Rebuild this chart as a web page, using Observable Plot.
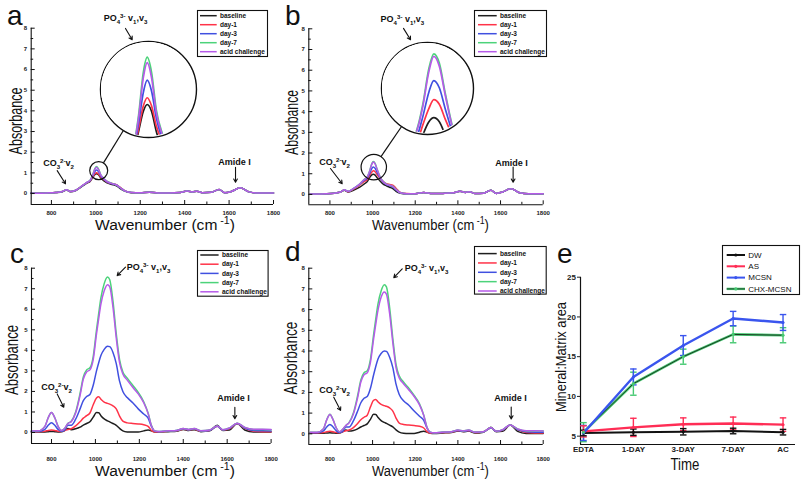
<!DOCTYPE html>
<html><head><meta charset="utf-8">
<script src="https://cdn.jsdelivr.net/npm/d3@7"></script>
<script src="https://cdn.jsdelivr.net/npm/@observablehq/plot@0.6"></script>
<style>
body{margin:0;background:#fff;}
#fig{position:relative;width:810px;height:479px;overflow:hidden;background:#fff;font-family:"Liberation Sans",Arial,sans-serif;}
#fig svg{position:absolute;overflow:visible;}
.inset{position:absolute;border-radius:50%;overflow:hidden;background:#fff;}
</style></head><body><div id="fig"></div><script>
// ---------------- DATA ----------------
const seriesNames = ["baseline","day-1","day-3","day-7","acid challenge"];
const seriesColors = ["#1e1e1e","#ff3348","#4050e0","#4cd37a","#b65ae8"];
const xTickMajor = [800,1000,1200,1400,1600,1800];
const xTickMinor = [900,1100,1300,1500,1700];
const yTickMajor = [0,1,2,3,4,5,6,7,8];
const yTickMinor = [0.5,1.5,2.5,3.5,4.5,5.5,6.5,7.5];

const gridAB = [708,740,780,820,850,868,885,910,940,960,975,985,995,1003,1012,1022,1035,1050,1065,1080,1095,1110,1130,1160,1200,1240,1280,1330,1380,1410,1435,1455,1480,1520,1555,1580,1610,1650,1690,1730,1800];
const aBaseline = [0.02,0.02,0.03,0.05,0.09,0.17,0.09,0.15,0.36,0.5, 0.6,0.76,0.91,0.96,0.91,0.76,0.62,0.52,0.46,0.42,0.36,0.24,0.12,0.04, 0.04,0.06,0.03,0.03,0.05,0.12,0.08,0.11,0.04,0.06,0.2,0.04,0.1,0.28,0.08,0.03,0.03];
const aDay1 = [0.02,0.02,0.03,0.05,0.1,0.18,0.1,0.16,0.38,0.52, 0.62,0.78,0.95,1.01,0.95,0.8,0.68,0.56,0.5,0.47,0.42,0.3,0.14,0.05, 0.04,0.06,0.03,0.03,0.05,0.12,0.08,0.11,0.04,0.06,0.2,0.04,0.1,0.28,0.08,0.03,0.03];
const aDay3 = [0.02,0.02,0.03,0.05,0.1,0.18,0.1,0.16,0.38,0.53, 0.63,0.82,1.05,1.14,1.06,0.86,0.7,0.57,0.5,0.46,0.4,0.28,0.13,0.05, 0.04,0.06,0.03,0.03,0.05,0.12,0.08,0.11,0.04,0.06,0.2,0.04,0.1,0.28,0.08,0.03,0.03];
const aDay7 = [0.02,0.02,0.03,0.05,0.1,0.18,0.1,0.16,0.39,0.54, 0.66,0.88,1.2,1.31,1.2,0.92,0.74,0.6,0.52,0.47,0.4,0.28,0.13,0.05, 0.04,0.06,0.03,0.03,0.05,0.12,0.08,0.11,0.04,0.06,0.2,0.04,0.1,0.28,0.08,0.03,0.03];
const aAcid = [0.02,0.02,0.03,0.05,0.1,0.18,0.1,0.16,0.39,0.54, 0.65,0.86,1.16,1.27,1.16,0.9,0.73,0.59,0.51,0.46,0.4,0.28,0.13,0.05, 0.04,0.06,0.03,0.03,0.05,0.12,0.08,0.11,0.04,0.06,0.2,0.04,0.1,0.28,0.08,0.03,0.03];

const bBaseline = [0.02,0.02,0.03,0.06,0.12,0.2,0.12,0.2,0.35,0.5, 0.62,0.8,0.93,0.97,0.93,0.8,0.65,0.5,0.42,0.35,0.28,0.15,0.06,0.03, 0.03,0.1,0.04,0.05,0.08,0.16,0.1,0.13,0.04,0.06,0.2,0.05,0.12,0.28,0.08,0.03,0.03];
const bDay1 = [0.02,0.02,0.03,0.06,0.12,0.21,0.13,0.25,0.45,0.62, 0.72,0.9,1.06,1.145,1.1,0.95,0.78,0.62,0.52,0.48,0.45,0.3,0.1,0.04, 0.03,0.1,0.04,0.05,0.08,0.16,0.1,0.13,0.04,0.06,0.2,0.05,0.12,0.28,0.08,0.03,0.03];
const bDay3 = [0.02,0.02,0.03,0.06,0.12,0.22,0.14,0.28,0.5,0.68, 0.78,0.98,1.22,1.33,1.26,1.05,0.8,0.6,0.48,0.42,0.36,0.22,0.08,0.03, 0.03,0.1,0.04,0.05,0.08,0.16,0.1,0.13,0.04,0.06,0.2,0.05,0.12,0.28,0.08,0.03,0.03];
const bDay7 = [0.02,0.02,0.03,0.06,0.12,0.23,0.15,0.28,0.5,0.72, 0.85,1.1,1.45,1.59,1.5,1.2,0.85,0.62,0.5,0.45,0.4,0.25,0.08,0.03, 0.03,0.1,0.04,0.05,0.08,0.16,0.1,0.13,0.04,0.06,0.2,0.05,0.12,0.28,0.08,0.03,0.03];
const bAcid = [0.02,0.02,0.03,0.06,0.12,0.23,0.15,0.28,0.5,0.71, 0.84,1.08,1.42,1.565,1.47,1.18,0.84,0.61,0.49,0.44,0.39,0.24,0.08,0.03, 0.03,0.1,0.04,0.05,0.08,0.16,0.1,0.13,0.04,0.06,0.2,0.05,0.12,0.28,0.08,0.03,0.03];

const gridCD = [708,740,770,785,800,815,830,845,860,875, 890,910,930,945,960,975,990,1005,1015,1025, 1040,1055,1065,1080,1095,1110,1125,1145,1170,1195, 1220,1240,1255,1270,1290,1330,1370,1400,1425,1450, 1480,1520,1555,1580,1610,1645,1680,1720,1760,1800];
const cBaseline = [0.03,0.03,0.03,0.04,0.05,0.04,0.03,0.04,0.1,0.2, 0.14,0.18,0.26,0.36,0.44,0.52,0.75,0.97,0.96,0.82, 0.66,0.57,0.52,0.44,0.35,0.2,0.08,0.03,0.02,0.02, 0.08,0.12,0.08,0.03,0.02,0.04,0.06,0.15,0.1,0.14, 0.04,0.08,0.35,0.1,0.12,0.44,0.12,0.02,0.02,0.02];
const cDay1 = [0.04,0.04,0.06,0.1,0.12,0.1,0.06,0.05,0.1,0.15, 0.18,0.32,0.52,0.7,0.82,0.95,1.35,1.68,1.74,1.62, 1.48,1.42,1.38,1.3,1.15,0.8,0.55,0.47,0.44,0.42, 0.38,0.3,0.1,0.03,0.03,0.06,0.08,0.16,0.12,0.16, 0.06,0.1,0.3,0.12,0.18,0.43,0.2,0.06,0.04,0.04];
const cDay3 = [0.05,0.05,0.15,0.35,0.47,0.35,0.15,0.06,0.12,0.35, 0.35,0.65,1.15,1.55,1.75,1.85,2.3,3.0,3.4,3.75, 4.05,4.2,4.18,3.9,3.35,2.5,2.0,1.7,1.45,1.15, 0.9,0.7,0.3,0.06,0.04,0.07,0.1,0.18,0.13,0.18, 0.07,0.1,0.3,0.12,0.2,0.44,0.22,0.1,0.08,0.07];
const cDay7 = [0.07,0.08,0.3,0.72,0.98,0.72,0.3,0.1,0.2,0.45, 0.55,1.0,1.9,2.7,3.05,3.15,3.7,5.0,5.8,6.55, 7.25,7.57,7.45,6.4,4.8,3.55,2.95,2.65,2.3,1.95, 1.5,0.95,0.35,0.08,0.05,0.08,0.1,0.2,0.15,0.2, 0.08,0.12,0.32,0.14,0.22,0.45,0.25,0.15,0.15,0.14];
const cAcid = [0.07,0.08,0.3,0.72,0.97,0.72,0.3,0.1,0.2,0.44, 0.53,0.95,1.8,2.6,2.95,3.05,3.55,4.8,5.55,6.25, 6.9,7.2,7.1,6.1,4.6,3.4,2.85,2.55,2.2,1.88, 1.45,0.92,0.33,0.08,0.05,0.08,0.1,0.2,0.15,0.2, 0.08,0.12,0.32,0.14,0.22,0.45,0.25,0.16,0.16,0.15];

const dBaseline = [0.03,0.03,0.03,0.04,0.05,0.04,0.03,0.04,0.1,0.18, 0.13,0.16,0.24,0.33,0.4,0.48,0.7,0.94,0.93,0.8, 0.64,0.55,0.5,0.42,0.33,0.19,0.08,0.03,0.02,0.02, 0.08,0.12,0.08,0.03,0.02,0.04,0.06,0.14,0.1,0.13, 0.04,0.08,0.32,0.1,0.12,0.42,0.12,0.02,0.02,0.02];
const dDay1 = [0.04,0.04,0.06,0.1,0.12,0.1,0.06,0.05,0.1,0.15, 0.18,0.3,0.5,0.68,0.8,0.9,1.3,1.62,1.66,1.55, 1.42,1.36,1.33,1.25,1.1,0.76,0.52,0.45,0.42,0.4, 0.36,0.28,0.1,0.03,0.03,0.06,0.08,0.15,0.11,0.15, 0.06,0.1,0.28,0.12,0.17,0.42,0.2,0.06,0.04,0.04];
const dDay3 = [0.05,0.05,0.14,0.33,0.45,0.33,0.14,0.06,0.12,0.33, 0.33,0.62,1.1,1.5,1.72,1.8,2.2,2.85,3.25,3.6, 3.88,4.0,3.98,3.7,3.2,2.4,1.9,1.6,1.38,1.1, 0.85,0.65,0.28,0.06,0.04,0.07,0.1,0.16,0.12,0.16, 0.07,0.1,0.28,0.12,0.18,0.42,0.2,0.1,0.08,0.07];
const dDay7 = [0.07,0.07,0.25,0.68,0.95,0.68,0.28,0.1,0.22,0.4, 0.55,1.0,1.85,2.6,2.95,3.05,3.6,4.8,5.55,6.25, 6.9,7.2,7.1,6.1,4.6,3.35,2.8,2.5,2.2,1.85, 1.45,0.9,0.32,0.08,0.05,0.08,0.1,0.18,0.14,0.18, 0.08,0.1,0.3,0.12,0.2,0.43,0.24,0.14,0.14,0.13];
const dAcid = [0.07,0.07,0.25,0.67,0.93,0.67,0.28,0.1,0.22,0.4, 0.53,0.95,1.75,2.5,2.85,2.95,3.45,4.6,5.3,5.95, 6.6,6.85,6.75,5.8,4.4,3.2,2.7,2.42,2.12,1.8, 1.4,0.88,0.3,0.08,0.05,0.08,0.1,0.18,0.14,0.18, 0.08,0.1,0.3,0.12,0.2,0.43,0.24,0.15,0.15,0.14];

// panel e
const timeLabels = ["EDTA","1-DAY","3-DAY","7-DAY","AC"];
const eNames = ["DW","AS","MCSN","CHX-MCSN"];
const eColors = ["#111111","#ff2d55","#3a55ee","#46c972"];
const dwMean = [5.4,5.5,5.55,5.65,5.5];   const dwErr = [0.35,0.4,0.4,0.35,0.35];
const asMean = [5.6,6.1,6.5,6.6,6.45];    const asErr = [0.7,1.15,0.8,0.8,0.85];
const mcsnMean = [5.4,12.45,16.4,19.8,19.3]; const mcsnErr = [0.95,1.0,1.25,0.9,1.0];
const chxMean = [5.5,11.6,15.0,17.8,17.7];   const chxErr = [1.2,1.45,0.95,1.05,0.95];

// ---------------- HELPERS ----------------
const FONT = '"Liberation Sans", Arial, sans-serif';
const fig = document.getElementById("fig");
function place(el, left, top){ el.style.position="absolute"; el.style.left=left+"px"; el.style.top=top+"px"; fig.appendChild(el); return el; }
function parseRich(s){
  const parts = []; const re = /\{([_^])([^}]*)\}|([^{]+)/g; let m;
  while ((m = re.exec(s))) parts.push(m[3] !== undefined ? ["", m[3]] : [m[1], m[2]]);
  return parts;
}
function fillRich(sel, s, fs){
  let shift = 0;
  parseRich(s).forEach(([k, t]) => {
    const target = k === "_" ? 0.3*fs : k === "^" ? -0.38*fs : 0;
    const ts = sel.append("tspan").attr("dy", target - shift).text(t);
    if (k) ts.attr("font-size", 0.68*fs);
    shift = target;
  });
}
function richify(svg){
  d3.select(svg).selectAll("text").each(function(){
    const s = this.textContent; if (!s.includes("{")) return;
    const fs = parseFloat(getComputedStyle(this).fontSize);
    this.textContent = "";
    fillRich(d3.select(this), s, fs);
  });
}
function rowsOf(grid, series){
  const rows = [];
  series.forEach((vals, k) => {
    if (vals.length !== grid.length) throw new Error("length mismatch series " + k + ": " + vals.length);
    vals.forEach((v, i) => rows.push({w: grid[i], v, s: seriesNames[k]}));
  });
  return rows;
}

function spectrumPanel(p){
  const L = p.layout;
  const rows = rowsOf(p.grid, p.series);
  const plotW = L.width - L.mL - L.mR, plotH = L.height - L.mT - L.mB;
  const A = p.ann;
  const marks = [
    Plot.line(rows, {x:"w", y:"v", stroke:"s", z:"s", curve:"monotone-x", strokeWidth:1.5}),
    Plot.ruleX([p.xDomain[0]], {stroke:"#111", strokeWidth:1.1}),
    Plot.ruleY([p.yDomain[0]], {stroke:"#111", strokeWidth:1.1}),
    Plot.tickX(xTickMajor, {x:d=>d, insetTop: plotH-4, stroke:"#111"}),
    Plot.tickX(xTickMinor, {x:d=>d, insetTop: plotH-2.5, stroke:"#111"}),
    Plot.tickY(yTickMajor, {y:d=>d, insetRight: plotW-4, stroke:"#111"}),
    Plot.tickY(yTickMinor, {y:d=>d, insetRight: plotW-2.5, stroke:"#111"}),
    Plot.text(A.labels, {x:"x", y:"y", text:"t", fontSize:9, fontWeight:"bold", fill:"#111"}),
    Plot.arrow(A.arrows, {x1:"x1", y1:"y1", x2:"x2", y2:"y2", headLength:5, strokeWidth:1.1, stroke:"#111"})
  ];
  if (A.small) {
    marks.push(Plot.link([A.conn], {x1:"x1", y1:"y1", x2:"x2", y2:"y2", stroke:"#111", strokeWidth:1.2}));
    marks.push(Plot.dot([A.small], {x:"x", y:"y", r:A.small.r, stroke:"#111", strokeWidth:1.2, fill:"none"}));
    marks.push(Plot.dot([A.big], {x:"x", y:"y", r:A.big.r, stroke:"#111", strokeWidth:1.4, fill:"white"}));
  }
  const svg = Plot.plot({
    width:L.width, height:L.height, marginLeft:L.mL, marginRight:L.mR, marginTop:L.mT, marginBottom:L.mB,
    style:{fontFamily:FONT, fontSize:"6px", fontWeight:"bold", background:"transparent", color:"#222", overflow:"visible"},
    x:{domain:p.xDomain, ticks:xTickMajor, tickFormat:d=>String(d), tickSize:0, tickPadding:L.xPad, label:null},
    y:{domain:p.yDomain, ticks:yTickMajor, tickFormat:d=>String(d), tickSize:0, tickPadding:4, label:null},
    color:{domain:seriesNames, range:seriesColors},
    marks
  });
  place(svg, L.left, L.top);
  richify(svg);
  if (p.inset) {
    const I = p.inset;
    const isvg = Plot.plot({
      width:I.size, height:I.size, margin:0,
      x:{domain:I.xDomain, axis:null}, y:{domain:I.yDomain, axis:null},
      color:{domain:seriesNames, range:seriesColors},
      style:{background:"white"},
      marks:[Plot.line(rows, {x:"w", y:"v", stroke:"s", z:"s", curve:"monotone-x", strokeWidth:1.7})]
    });
    const div = document.createElement("div");
    div.className = "inset";
    div.style.width = I.size+"px"; div.style.height = I.size+"px";
    div.appendChild(isvg);
    isvg.style.left = "0px"; isvg.style.top = "0px";
    place(div, I.left, I.top);
  }
  // legend
  const G = p.legend;
  const lg = d3.create("svg").attr("width", G.w).attr("height", G.h);
  lg.append("rect").attr("x",0.5).attr("y",0.5).attr("width",G.w-1).attr("height",G.h-1).attr("fill","white").attr("stroke","#111").attr("stroke-width",1.1);
  seriesNames.forEach((n,i)=>{
    const y = G.r0 + i*G.step;
    lg.append("line").attr("x1",G.lx1).attr("x2",G.lx2).attr("y1",y).attr("y2",y).attr("stroke",seriesColors[i]).attr("stroke-width",1.5);
    lg.append("text").attr("x",G.tx).attr("y",y).attr("dy","0.35em").attr("font-family",FONT).attr("font-size",6.5).attr("font-weight","bold").attr("fill","#111").text(n);
  });
  place(lg.node(), G.left, G.top);
}

// ---------------- PANELS a-d ----------------
spectrumPanel({
  grid:gridAB, series:[aBaseline,aDay1,aDay3,aDay7,aAcid], xDomain:[709,1800], yDomain:[-0.53,8],
  layout:{left:0, top:0, width:280, height:235, mL:30.7, mR:7, mT:27.7, mB:31, xPad:6},
  ann:{
    labels:[{x:1133.6,y:8.47,t:"PO{_4}{^3-} v{_1},v{_3}"},{x:832,y:1.45,t:"CO{_3}{^2-}v{_2}"},{x:1624,y:1.5,t:"Amide I"}],
    arrows:[{x1:1133.6,y1:7.99,x2:1163.8,y2:7.44},{x1:826,y1:1.11,x2:863.4,y2:0.47},{x1:1629,y1:1.27,x2:1629,y2:0.55}],
    small:{x:1013,y:1.11,r:9}, big:{x:1237.1,y:5.034,r:48}, conn:{x1:1034.5,y1:1.486,x2:1124,y2:3.05}
  },
  inset:{left:101, top:42, size:94, xDomain:[907.8,1103.6], yDomain:[0.723,1.419]},
  legend:{left:197, top:10, w:71, h:47, r0:5.7, step:9, lx1:3, lx2:19.7, tx:23}
});
spectrumPanel({
  grid:gridAB, series:[bBaseline,bDay1,bDay3,bDay7,bAcid], xDomain:[701,1800], yDomain:[-0.5,8],
  layout:{left:270, top:0, width:280, height:235, mL:38.3, mR:7.3, mT:28.3, mB:30.7, xPad:6},
  ann:{
    labels:[{x:1140,y:8.45,t:"PO{_4}{^3-} v{_1},v{_3}"},{x:821.5,y:1.55,t:"CO{_3}{^2-}v{_2}"},{x:1651,y:1.5,t:"Amide I"}],
    arrows:[{x1:1145,y1:8.02,x2:1178,y2:7.47},{x1:802.7,y1:1.255,x2:857.6,y2:0.517},{x1:1659,y1:1.32,x2:1659,y2:0.59}],
    small:{x:1005.7,y:1.32,r:12.7}, big:{x:1257.5,y:5.118,r:46}, conn:{x1:1039.5,y1:1.825,x2:1136,y2:3.28}
  },
  inset:{left:382, top:43, size:90, xDomain:[918.9,1066.4], yDomain:[0.816,1.69]},
  legend:{left:474, top:10, w:73, h:47, r0:5.7, step:9, lx1:4, lx2:22.7, tx:26}
});
spectrumPanel({
  grid:gridCD, series:[cBaseline,cDay1,cDay3,cDay7,cAcid], xDomain:[709,1800], yDomain:[-0.535,8],
  layout:{left:0, top:240, width:280, height:239, mL:31, mR:9.4, mT:27.7, mB:36, xPad:13},
  ann:{
    labels:[{x:1241.8,y:8.03,t:"PO{_4}{^3-} v{_1},v{_3}"},{x:823,y:2.19,t:"CO{_3}{^2-}v{_2}"},{x:1629,y:1.66,t:"Amide I"}],
    arrows:[{x1:1137,y1:8.05,x2:1099,y2:7.64},{x1:826,y1:1.88,x2:856,y2:1.23},{x1:1635,y1:1.23,x2:1635,y2:0.67}]
  },
  legend:{left:196.7, top:250, w:71.6, h:46.7, r0:5, step:9.2, lx1:3.3, lx2:21.6, tx:25}
});
spectrumPanel({
  grid:gridCD, series:[dBaseline,dDay1,dDay3,dDay7,dAcid], xDomain:[701,1800], yDomain:[-0.517,8],
  layout:{left:270, top:240, width:280, height:239, mL:38.3, mR:7.3, mT:27.7, mB:35, xPad:12},
  ann:{
    labels:[{x:1253,y:7.99,t:"PO{_4}{^3-} v{_1},v{_3}"},{x:821.5,y:2.09,t:"CO{_3}{^2-}v{_2}"},{x:1646.6,y:1.7,t:"Amide I"}],
    arrows:[{x1:1139,y1:7.97,x2:1099.5,y2:7.54},{x1:818,y1:1.77,x2:850,y2:1.13},{x1:1650,y1:1.29,x2:1650,y2:0.72}]
  },
  legend:{left:474, top:245.7, w:72.7, h:48.6, r0:7.6, step:9.35, lx1:4, lx2:22.7, tx:26}
});

// ---------------- PANEL e ----------------
(function(){
  const means = [dwMean, asMean, mcsnMean, chxMean], errs = [dwErr, asErr, mcsnErr, chxErr];
  const rows = [];
  means.forEach((m,k)=> m.forEach((v,i)=> rows.push({t:i, v, e:errs[k][i], s:eNames[k]})));
  const bySeries = n => rows.filter(d => d.s === n);
  const W = 270, H = 239, mL = 40, mR = 15, mT = 36.7, mB = 35;
  const xd = [-0.06, 4.25], yd = [3.95, 25];
  const errOrder = ["CHX-MCSN","MCSN","AS","DW"];
  const marks = [
    Plot.ruleX([xd[0]], {stroke:"#111", strokeWidth:1.2}),
    Plot.ruleY([yd[0]], {stroke:"#111", strokeWidth:1.2}),
  ];
  errOrder.forEach(n => {
    const r = bySeries(n);
    marks.push(Plot.ruleX(r, {x:"t", y1:d=>d.v-d.e, y2:d=>d.v+d.e, stroke:"s", strokeWidth:1.4}));
    marks.push(Plot.link(r, {x1:d=>d.t-0.065, x2:d=>d.t+0.065, y1:d=>d.v+d.e, y2:d=>d.v+d.e, stroke:"s", strokeWidth:1.4}));
    marks.push(Plot.link(r, {x1:d=>d.t-0.065, x2:d=>d.t+0.065, y1:d=>d.v-d.e, y2:d=>d.v-d.e, stroke:"s", strokeWidth:1.4}));
  });
  marks.push(Plot.line(bySeries("DW"), {x:"t", y:"v", stroke:"s", strokeWidth:2}));
  marks.push(Plot.line(bySeries("AS"), {x:"t", y:"v", stroke:"s", strokeWidth:2.4}));
  marks.push(Plot.line(bySeries("CHX-MCSN"), {x:"t", y:"v", stroke:"s", strokeWidth:2.6}));
  marks.push(Plot.line(bySeries("CHX-MCSN"), {x:"t", y:"v", stroke:"#1c3a22", strokeWidth:1}));
  marks.push(Plot.line(bySeries("MCSN"), {x:"t", y:"v", stroke:"s", strokeWidth:2.4}));
  marks.push(Plot.dot(rows, {x:"t", y:"v", fill:"s", r:1.5}));
  const svg = Plot.plot({
    width:W, height:H, marginLeft:mL, marginRight:mR, marginTop:mT, marginBottom:mB,
    style:{fontFamily:FONT, fontSize:"8px", fontWeight:"bold", background:"transparent", color:"#222", overflow:"visible"},
    x:{domain:xd, ticks:[0,1,2,3,4], tickFormat:i=>timeLabels[i], tickSize:0, tickPadding:2, label:null},
    y:{domain:yd, ticks:[5,10,15,20,25], tickFormat:d=>String(d), tickSize:3, tickPadding:1.5, label:null},
    color:{domain:eNames, range:eColors},
    marks
  });
  place(svg, 540, 240);
  // legend e
  const lg = d3.create("svg").attr("width", 78).attr("height", 50);
  lg.append("rect").attr("x",0.5).attr("y",0.5).attr("width",77).attr("height",49).attr("fill","white").attr("stroke","#111").attr("stroke-width",1.1);
  eNames.forEach((n,i)=>{
    const y = 10 + i*11.3;
    lg.append("line").attr("x1",4.7).attr("x2",23).attr("y1",y).attr("y2",y).attr("stroke",eColors[i]).attr("stroke-width", i===3?2.4:2);
    if (i===3) lg.append("line").attr("x1",4.7).attr("x2",23).attr("y1",y).attr("y2",y).attr("stroke","#1c3a22").attr("stroke-width",0.9);
    lg.append("circle").attr("cx",13.8).attr("cy",y).attr("r",1.6).attr("fill",eColors[i]);
    lg.append("text").attr("x",26.3).attr("y",y).attr("dy","0.35em").attr("font-family",FONT).attr("font-size",8).attr("fill","#111").text(n);
  });
  place(lg.node(), 722, 245);
})();

// ---------------- TITLES, AXIS LABELS, PANEL LETTERS (overlay) ----------------
const titles = [
  {t:"Absorbance", x:15.5, y:121, size:18, len:67, rot:-90},
  {t:"Absorbance", x:291.7, y:122.5, size:18, len:65, rot:-90},
  {t:"Absorbance", x:12, y:360, size:18, len:70, rot:-90},
  {t:"Absorbance", x:290.7, y:358, size:18, len:73, rot:-90},
  {t:"Wavenumber (cm{^ -1})", x:165, y:224.5, size:15, len:140, rot:0},
  {t:"Wavenumber (cm{^ -1})", x:430.5, y:224.5, size:15, len:117, rot:0},
  {t:"Wavenumber (cm{^ -1})", x:165, y:470.5, size:15, len:140, rot:0},
  {t:"Wavenumber (cm{^ -1})", x:430.5, y:470.5, size:15, len:117, rot:0},
  {t:"Mineral:Matrix area", x:561, y:357, size:15, len:110, rot:-90},
  {t:"Time", x:685, y:464, size:16, len:29, rot:0}
];
const letters = [
  {t:"a", x:7, y:25}, {t:"b", x:285, y:25}, {t:"c", x:10, y:263}, {t:"d", x:285, y:261}, {t:"e", x:557, y:263}
];
const ov = d3.create("svg").attr("width", 810).attr("height", 479).style("pointer-events","none");
place(ov.node(), 0, 0);
titles.forEach(d => {
  const g = ov.append("text").attr("text-anchor","middle").attr("font-family",FONT).attr("font-size",d.size).attr("fill","#111").attr("y", 0.35*d.size);
  fillRich(g, d.t, d.size);
  const w = g.node().getComputedTextLength() || d.len;
  g.attr("transform", `translate(${d.x},${d.y}) rotate(${d.rot}) scale(${d.len / w},1)`);
});
letters.forEach(d => {
  ov.append("text").attr("x", d.x).attr("y", d.y).attr("font-family",FONT).attr("font-size",28).attr("fill","#111").text(d.t);
});
</script></body></html>
